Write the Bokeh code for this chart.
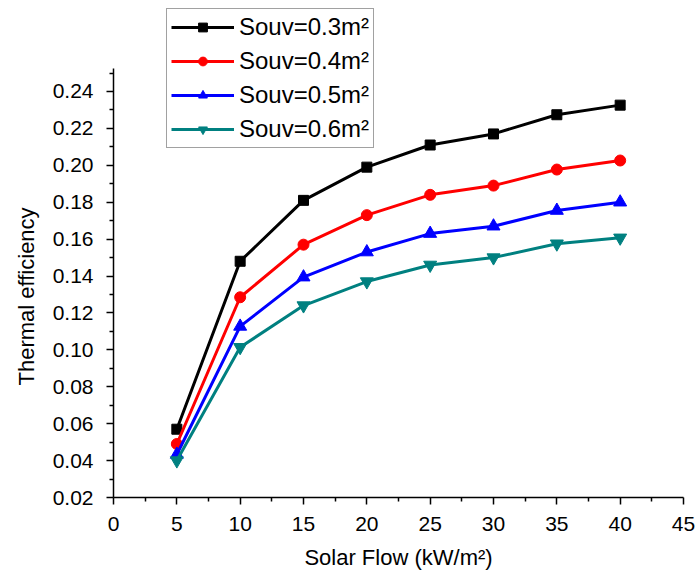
from bokeh.plotting import figure
from bokeh.models import FixedTicker, NumeralTickFormatter, Legend, LegendItem, Range1d, Title
from bokeh.embed import file_html
from bokeh.resources import INLINE

solar_flow = [5, 10, 15, 20, 25, 30, 35, 40]
eff_03 = [0.057, 0.148, 0.181, 0.199, 0.211, 0.217, 0.2274, 0.2326]
eff_04 = [0.049, 0.1285, 0.157, 0.173, 0.184, 0.189, 0.1977, 0.2026]
eff_05 = [0.0433, 0.1127, 0.1394, 0.153, 0.163, 0.167, 0.1755, 0.180]
eff_06 = [0.040, 0.1014, 0.124, 0.137, 0.146, 0.150, 0.1575, 0.1607]
labels = ["Souv=0.3m²", "Souv=0.4m²", "Souv=0.5m²", "Souv=0.6m²"]
x_ticks = [0, 5, 10, 15, 20, 25, 30, 35, 40, 45]
y_ticks = [0.02, 0.04, 0.06, 0.08, 0.10, 0.12, 0.14, 0.16, 0.18, 0.20, 0.22, 0.24]
y_axis_top = 0.2523

FONT = "Liberation Sans"

p = figure(width=697, height=572, output_backend="svg", toolbar_location=None,
           x_range=Range1d(0, 45), y_range=Range1d(0.02, 0.2893),
           min_border_left=113, min_border_right=14, min_border_top=0, min_border_bottom=75)
p.outline_line_color = None
p.grid.visible = False
p.background_fill_color = "white"
p.border_fill_color = "white"

x_minor = [x + 2.5 for x in x_ticks[:-1]]
y_minor = [round(y + 0.01, 3) for y in y_ticks]
p.xaxis.ticker = FixedTicker(ticks=x_ticks, minor_ticks=x_minor)
p.yaxis.ticker = FixedTicker(ticks=y_ticks, minor_ticks=y_minor)
p.yaxis.formatter = NumeralTickFormatter(format="0.00")
p.yaxis.bounds = (y_ticks[0], y_axis_top)

for ax in (p.xaxis[0], p.yaxis[0]):
    ax.axis_line_width = 1.5
    ax.axis_line_color = "black"
    ax.major_tick_line_width = 1.5
    ax.minor_tick_line_width = 1.5
    ax.major_tick_out = 7
    ax.major_tick_in = 0
    ax.minor_tick_out = 4
    ax.minor_tick_in = 0
    ax.major_label_text_font = FONT
    ax.major_label_text_font_size = "21px"
    ax.major_label_text_color = "black"
    ax.axis_label_text_font = FONT
    ax.axis_label_text_font_size = "22px"
    ax.axis_label_text_font_style = "normal"
    ax.axis_label_text_color = "black"

p.xaxis.axis_label = "Solar Flow (kW/m²)"
p.xaxis.major_label_standoff = 12
p.yaxis.major_label_standoff = 13
p.xaxis.axis_label_standoff = 11
p.xaxis.major_label_text_line_height = 0.9
p.xaxis.axis_label_text_line_height = 0.9

ytitle = Title(text="Thermal efficiency", align="left", offset=112, standoff=22,
               text_font=FONT, text_font_size="22px", text_font_style="normal",
               text_color="black")
p.add_layout(ytitle, "left")

series = [
    (eff_03, "black", "square", 10),
    (eff_04, "red", "circle", 11),
    (eff_05, "blue", "triangle", 13),
    (eff_06, "#008080", "inverted_triangle", 13),
]
items = []
for (vals, color, marker, size), lab in zip(series, labels):
    r1 = p.line(solar_flow, vals, line_color=color, line_width=3)
    r2 = p.scatter(solar_flow, vals, marker=marker, size=size, fill_color=color, line_color=color)
    items.append(LegendItem(label=lab, renderers=[r1, r2]))

legend = Legend(items=items, location=(53, 349))
legend.label_text_font = FONT
legend.label_text_font_size = "24px"
legend.label_text_color = "black"
legend.glyph_width = 63
legend.glyph_height = 22
legend.label_height = 22
legend.spacing = 6
legend.padding = 4
legend.margin = 0
legend.label_standoff = 5
legend.border_line_color = "#444444"
legend.border_line_width = 1.2
legend.background_fill_alpha = 1.0
p.add_layout(legend)

open("out.html", "w").write(file_html(p, INLINE))
